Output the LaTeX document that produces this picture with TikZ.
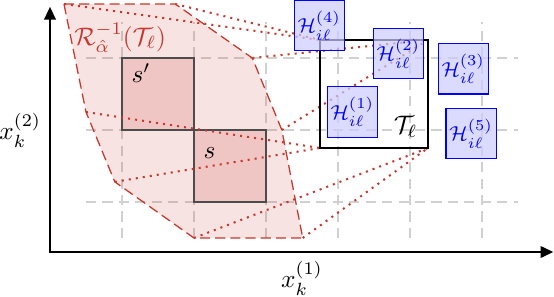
\documentclass[tikz,border=0pt]{standalone}
\usetikzlibrary{arrows.meta}
\definecolor{myred}{RGB}{200,55,45}
\tikzset{
  gridline/.style={draw=black!18, line width=0.6pt, dash pattern=on 4pt off 2.5pt},
  axisline/.style={semithick, black, {Triangle[length=5pt,width=4.6pt]}-{Triangle[length=5pt,width=4.6pt]}},
  regionfill/.style={fill=myred, fill opacity=0.14, draw=myred, draw opacity=1, line width=0.5pt, dash pattern=on 4pt off 2pt},
  cellbox/.style={draw=black!70, semithick, fill=myred, fill opacity=0.17, minimum size=1cm, inner sep=0pt, outer sep=0pt},
  maplink/.style={myred, dotted, thick},
  targetbox/.style={draw=black, line width=1.1pt, minimum size=1.5cm, inner sep=0pt, outer sep=0pt},
  hbox/.style={draw=blue, fill=blue!20, fill opacity=0.7, text opacity=1, text=blue, minimum size=0.7cm, inner sep=1pt, font=\footnotesize},
}
\begin{document}
\begin{tikzpicture}
\useasboundingbox (-0.6944,-0.3056) rectangle (7.0,3.8056);
% grid
\foreach \gx in {1,...,6} { \draw[gridline] (\gx,0.5) -- (\gx,3.5); }
\foreach \gy in {1,2,3} { \draw[gridline] (0.5,\gy) -- (6.5,\gy); }
% axes
\coordinate (O) at (0,0.3056);
\coordinate (ytip) at (0,3.71);
\coordinate (xtip) at (6.99,0.3056);
\draw[axisline] (ytip) -- (O) -- (xtip);
\node[left] (xlab2) at (0,2) {$x_k^{(2)}$};
\node[below] (xlab1) at (3.5,0.3056) {$x_k^{(1)}$};
% preimage region
\coordinate (p1) at (0.194,3.75);
\coordinate (p2) at (1.74,3.75);
\coordinate (p3) at (2.81,3.0);
\coordinate (p4) at (3.22,2.0);
\coordinate (p5) at (3.51,0.5);
\coordinate (p6) at (2.0,0.5);
\coordinate (p7) at (0.90,1.28);
\coordinate (p8) at (0.5,2.25);
\draw[regionfill] (p1) -- (p2) -- (p3) -- (p4) -- (p5) -- (p6) -- (p7) -- (p8) -- cycle;
\node[anchor=base west, inner sep=0pt, text=myred] (rlab) at (0.33,3.18) {$\mathcal{R}^{-1}_{\hat{\alpha}}(\mathcal{T}_\ell)$};
% cells
\node[cellbox] (sp) at (1.5,2.5) {};
\node[cellbox] (s) at (2.5,1.5) {};
\node[anchor=base west, inner sep=0pt] (splab) at (1.125,2.653) {$s'$};
\node[anchor=base west, inner sep=0pt] (slab) at (2.125,1.611) {$s$};
% target
\node[targetbox] (T) at (4.5,2.5) {};
\draw[maplink] (p1) -- (T.north west);
\draw[maplink] (p2) -- (T.north west);
\draw[maplink] (p3) -- (T.north east);
\draw[maplink] (p4) -- (T.north east);
\draw[maplink] (p5) -- (T.south east);
\draw[maplink] (p6) -- (T.south east);
\draw[maplink] (p7) -- (T.south west);
\draw[maplink] (p8) -- (T.south west);
\draw[targetbox] (T.north west) rectangle (T.south east);
\node[anchor=south east, inner sep=4pt] (tlab) at (T.south east) {$\mathcal{T}_\ell$};
% H boxes
\node[hbox] (h4) at (3.74,3.45) {$\mathcal{H}_{i\ell}^{(4)}$};
\node[hbox] (h2) at (4.84,3.06) {$\mathcal{H}_{i\ell}^{(2)}$};
\node[hbox] (h3) at (5.74,2.85) {$\mathcal{H}_{i\ell}^{(3)}$};
\node[hbox] (h1) at (4.20,2.25) {$\mathcal{H}_{i\ell}^{(1)}$};
\node[hbox] (h5) at (5.85,1.95) {$\mathcal{H}_{i\ell}^{(5)}$};
\end{tikzpicture}
\end{document}
